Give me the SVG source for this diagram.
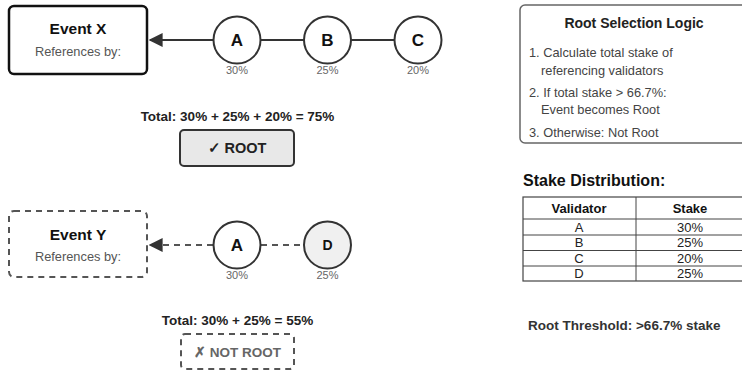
<svg xmlns="http://www.w3.org/2000/svg" width="742" height="371" viewBox="0 0 742 371">
  <style>
    text { font-family: "Liberation Sans", Arial, sans-serif; fill: #222; }
    .title { font-size: 15.5px; font-weight: bold; text-anchor: middle; fill: #111; }
    .sub { font-size: 12.8px; text-anchor: middle; fill: #555; }
    .letter { font-size: 17px; font-weight: bold; text-anchor: middle; fill: #111; }
    .pct { font-size: 11px; text-anchor: middle; fill: #666; }
    .total { font-size: 13.5px; font-weight: bold; text-anchor: middle; fill: #222; }
    .node { fill: #fff; stroke: #333; stroke-width: 2; }
    .logic { font-size: 12.8px; fill: #444; }
    .cell { font-size: 13px; text-anchor: middle; fill: #222; }
    .head { font-size: 13px; font-weight: bold; text-anchor: middle; fill: #111; }
    .solid { stroke: #333; stroke-width: 2; fill: none; }
    .dash { stroke: #555; stroke-width: 2; fill: none; stroke-dasharray: 6 5; }
  </style>
  <defs>
    <marker id="arrow" viewBox="0 0 10 10" refX="9" refY="5" markerWidth="7" markerHeight="7" markerUnits="strokeWidth" orient="auto">
      <path d="M0,0 L10,5 L0,10 z" fill="#333"/>
    </marker>
  </defs>

  <rect width="742" height="371" fill="#fff"/>

  <!-- connectors -->
  <g id="connectors">
    <line class="solid" x1="213" y1="40" x2="150" y2="40" marker-end="url(#arrow)"/>
    <line class="solid" x1="261" y1="40" x2="304" y2="40"/>
    <line class="solid" x1="351" y1="40" x2="395" y2="40"/>
    <line class="dash" x1="213" y1="245" x2="150" y2="245" marker-end="url(#arrow)"/>
    <line class="dash" x1="261" y1="245" x2="304" y2="245"/>
  </g>

  <!-- Event X -->
  <g id="event-x">
    <rect x="9" y="6" width="138" height="68" rx="5" fill="#fff" stroke="#111" stroke-width="2.5"/>
    <text class="title" x="78" y="34">Event X</text>
    <text class="sub" x="78" y="56">References by:</text>
  </g>

  <g id="node-a1">
    <circle class="node" cx="237" cy="40" r="23.5"/>
    <text class="letter" x="237" y="46">A</text>
    <text class="pct" x="237" y="74">30%</text>
  </g>
  <g id="node-b">
    <circle class="node" cx="327.5" cy="40" r="23.5"/>
    <text class="letter" x="327.5" y="46">B</text>
    <text class="pct" x="327.5" y="74">25%</text>
  </g>
  <g id="node-c">
    <circle class="node" cx="418" cy="40" r="23.5"/>
    <text class="letter" x="418" y="46">C</text>
    <text class="pct" x="418" y="74">20%</text>
  </g>

  <g id="total-x">
    <text class="total" x="237.5" y="121">Total: 30% + 25% + 20% = 75%</text>
  </g>
  <g id="root-badge">
    <rect x="180" y="130" width="114" height="36" rx="4" fill="#e8e8e8" stroke="#333" stroke-width="2"/>
    <text class="total" x="237" y="153" style="font-size:14.5px">✓ ROOT</text>
  </g>

  <!-- Event Y -->
  <g id="event-y">
    <rect x="9" y="211" width="138" height="66" rx="5" fill="#fff" stroke="#555" stroke-width="2" stroke-dasharray="6 5"/>
    <text class="title" x="78" y="240">Event Y</text>
    <text class="sub" x="78" y="261">References by:</text>
  </g>

  <g id="node-a2">
    <circle class="node" cx="237" cy="245" r="23.5"/>
    <text class="letter" x="237" y="251">A</text>
    <text class="pct" x="237" y="279">30%</text>
  </g>
  <g id="node-d">
    <circle class="node" cx="327.5" cy="245" r="23.5" style="fill:#f0f0f0"/>
    <text class="letter" x="327.5" y="250" style="font-size:14px">D</text>
    <text class="pct" x="327.5" y="279">25%</text>
  </g>

  <g id="total-y">
    <text class="total" x="237.5" y="325">Total: 30% + 25% = 55%</text>
  </g>
  <g id="not-root-badge">
    <rect x="181" y="334" width="113" height="35" rx="4" fill="#fff" stroke="#555" stroke-width="2" stroke-dasharray="6 5"/>
    <text class="total" x="237.5" y="357" style="font-size:13.5px;fill:#666">✗ NOT ROOT</text>
  </g>

  <!-- Root selection logic panel -->
  <g id="logic-panel">
    <rect x="520" y="5" width="235" height="138" rx="5" fill="#fff" stroke="#666" stroke-width="1.5"/>
    <text x="634" y="28" style="font-size:14px;font-weight:bold;text-anchor:middle;fill:#222">Root Selection Logic</text>
    <text class="logic" x="529" y="57">1. Calculate total stake of</text>
    <text class="logic" x="541" y="75">referencing validators</text>
    <text class="logic" x="529" y="97">2. If total stake &gt; 66.7%:</text>
    <text class="logic" x="541" y="114">Event becomes Root</text>
    <text class="logic" x="529" y="137">3. Otherwise: Not Root</text>
  </g>

  <!-- Stake distribution table -->
  <g id="stake-table">
    <text x="523" y="186" style="font-size:16px;font-weight:bold;fill:#111">Stake Distribution:</text>
    <rect x="523" y="197" width="221" height="84" fill="#fff" stroke="#444" stroke-width="1.2"/>
    <g stroke="#444" stroke-width="1">
      <line x1="523" y1="219" x2="744" y2="219"/>
      <line x1="523" y1="235" x2="744" y2="235"/>
      <line x1="523" y1="250.5" x2="744" y2="250.5"/>
      <line x1="523" y1="266" x2="744" y2="266"/>
      <line x1="636" y1="197" x2="636" y2="281"/>
    </g>
    <text class="head" x="579" y="213">Validator</text>
    <text class="head" x="690" y="213">Stake</text>
    <text class="cell" x="579" y="232">A</text>
    <text class="cell" x="690" y="232">30%</text>
    <text class="cell" x="579" y="247">B</text>
    <text class="cell" x="690" y="247">25%</text>
    <text class="cell" x="579" y="263">C</text>
    <text class="cell" x="690" y="263">20%</text>
    <text class="cell" x="579" y="278">D</text>
    <text class="cell" x="690" y="278">25%</text>
  </g>

  <g id="threshold">
    <text x="528" y="330" style="font-size:13.5px;font-weight:bold;fill:#333">Root Threshold: &gt;66.7% stake</text>
  </g>
</svg>
